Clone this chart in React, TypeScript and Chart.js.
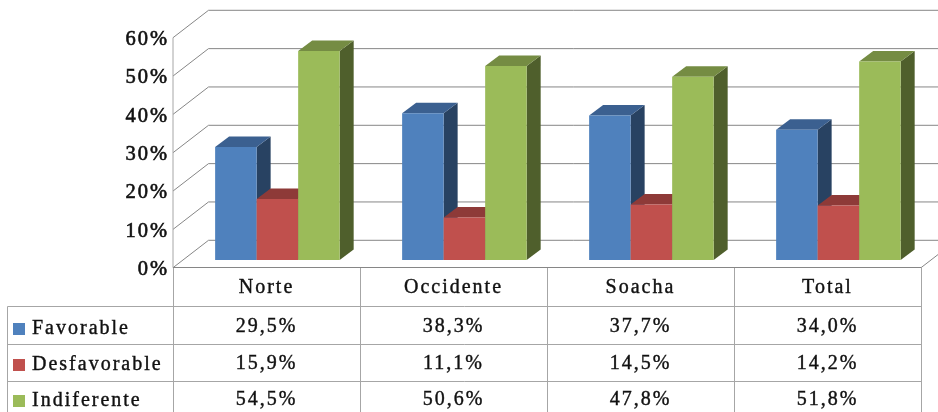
import React, { useEffect, useRef } from "react";
import { Chart, registerables } from "chart.js";

Chart.register(...registerables);

const categories = ["Norte", "Occidente", "Soacha", "Total"];
const favorable = [29.5, 38.3, 37.7, 34.0];
const desfavorable = [15.9, 11.1, 14.5, 14.2];
const indiferente = [54.5, 50.6, 47.8, 51.8];
const seriesNames = ["Favorable", "Desfavorable", "Indiferente"];
const seriesValues = [favorable, desfavorable, indiferente];
const frontColors = ["#4F81BD", "#C0504D", "#9BBB59"];
const topColors = ["#3B6090", "#8E3A38", "#758C43"];
const sideColors = ["#284262", "#7A302E", "#4F5F2C"];

const FONT = '"Liberation Serif", serif';
const SPACING = "2px";
const GRID = "#868686";
const TABLE = "#A6A6A6";
const INK = "#111111";
const BACK_DX = 35.5, BACK_DY = -27.4;
const BAR_DX = 10.9, BAR_DY = -7.7;
const SIDE_DX = 14, SIDE_DY = -10.5;
const ROW_LINES = [306.5, 344, 381];
const VALUE_Y = [327, 364, 399.5];
const NAME_Y = [328.7, 365, 401];
const LEGEND_Y = [323, 359, 395];

const scene = {
  id: "scene",
  beforeDraw(chart: any) {
    chart.ctx.letterSpacing = SPACING;
    chart.scales.y.getLabelItems().forEach((item: any) => {
      item.textOffset = 2;
    });
  },
  beforeDatasetsDraw(chart: any) {
    const { ctx, scales, chartArea } = chart;
    const y = scales.y;
    ctx.save();
    ctx.lineWidth = 1;
    ctx.strokeStyle = GRID;
    y.ticks.forEach((t: any) => {
      const py = y.getPixelForValue(t.value);
      ctx.beginPath();
      ctx.moveTo(chartArea.left, py);
      ctx.lineTo(chartArea.left + BACK_DX, py + BACK_DY);
      ctx.lineTo(chartArea.right + BACK_DX, py + BACK_DY);
      ctx.stroke();
    });
    const y0 = y.getPixelForValue(0);
    ctx.beginPath();
    ctx.moveTo(chartArea.right, y0);
    ctx.lineTo(chartArea.right + BACK_DX, y0 + BACK_DY);
    ctx.stroke();
    ctx.strokeStyle = TABLE;
    ctx.beginPath();
    ctx.moveTo(chartArea.left, y.getPixelForValue(60));
    ctx.lineTo(chartArea.left, y0);
    ctx.stroke();
    ctx.translate(BAR_DX, BAR_DY);
    categories.forEach((_, c) => {
      seriesValues.forEach((__, s) => {
        const el: any = chart.getDatasetMeta(s).data[c];
        const l = el.x - el.width / 2;
        const r = el.x + el.width / 2;
        ctx.fillStyle = sideColors[s];
        ctx.beginPath();
        ctx.moveTo(r, el.y);
        ctx.lineTo(r + SIDE_DX, el.y + SIDE_DY);
        ctx.lineTo(r + SIDE_DX, el.base + SIDE_DY);
        ctx.lineTo(r, el.base);
        ctx.closePath();
        ctx.fill();
        ctx.fillStyle = topColors[s];
        ctx.beginPath();
        ctx.moveTo(l, el.y);
        ctx.lineTo(l + SIDE_DX, el.y + SIDE_DY);
        ctx.lineTo(r + SIDE_DX, el.y + SIDE_DY);
        ctx.lineTo(r, el.y);
        ctx.closePath();
        ctx.fill();
        el.draw(ctx);
      });
    });
    ctx.restore();
    return false;
  },
  afterDraw(chart: any) {
    const { ctx, scales, chartArea, height } = chart;
    const x = scales.x;
    const y0 = scales.y.getPixelForValue(0);
    const edges = categories.map((_, i) => x.getPixelForValue(i) - (x.getPixelForValue(1) - x.getPixelForValue(0)) / 2);
    edges.push(chartArea.right);
    ctx.save();
    ctx.lineWidth = 1;
    ctx.strokeStyle = TABLE;
    edges.forEach((e: number) => {
      const px = Math.round(e) + 0.5;
      ctx.beginPath();
      ctx.moveTo(px, y0);
      ctx.lineTo(px, height);
      ctx.stroke();
    });
    ctx.beginPath();
    ctx.moveTo(7.5, ROW_LINES[0]);
    ctx.lineTo(7.5, height);
    ctx.stroke();
    ROW_LINES.forEach((ry) => {
      ctx.beginPath();
      ctx.moveTo(7.5, Math.floor(ry) + 0.5);
      ctx.lineTo(chartArea.right, Math.floor(ry) + 0.5);
      ctx.stroke();
    });
    ctx.strokeStyle = GRID;
    ctx.beginPath();
    ctx.moveTo(chartArea.left, Math.floor(y0) + 0.5);
    ctx.lineTo(chartArea.right, Math.floor(y0) + 0.5);
    ctx.stroke();

    ctx.font = `20px ${FONT}`;
    ctx.letterSpacing = SPACING;
    ctx.textBaseline = "middle";
    ctx.lineWidth = 0.4;
    ctx.strokeStyle = INK;
    const label = (text: string, px: number, py: number) => {
      ctx.fillText(text, px, py);
      ctx.strokeText(text, px, py);
    };
    seriesNames.forEach((name, s) => {
      ctx.fillStyle = frontColors[s];
      ctx.fillRect(13, LEGEND_Y[s], 12, 12);
      ctx.fillStyle = INK;
      ctx.textAlign = "left";
      label(name, 32, NAME_Y[s]);
      ctx.textAlign = "center";
      seriesValues[s].forEach((v, c) => {
        label(`${v.toFixed(1).replace(".", ",")}%`, x.getPixelForValue(c), VALUE_Y[s]);
      });
    });
    ctx.restore();
  },
};

export default function App() {
  const ref = useRef<HTMLCanvasElement>(null);
  useEffect(() => {
    const chart = new Chart(ref.current as HTMLCanvasElement, {
      type: "bar",
      data: {
        labels: categories,
        datasets: seriesNames.map((name, s) => ({
          label: name,
          data: seriesValues[s],
          backgroundColor: frontColors[s],
          barPercentage: 1,
          categoryPercentage: 0.666,
        })),
      },
      options: {
        responsive: false,
        animation: false,
        layout: { padding: { top: 37.7, right: 17, left: 0, bottom: 0 } },
        plugins: { legend: { display: false }, tooltip: { enabled: false } },
        scales: {
          x: {
            grid: { display: false },
            border: { display: false },
            ticks: { color: INK, font: { family: FONT, size: 20 }, padding: 0, maxRotation: 0, textStrokeColor: INK, textStrokeWidth: 0.4 },
            afterFit(s: any) { s.height = 412 - 267.7; },
          },
          y: {
            min: 0,
            max: 60,
            grid: { display: false },
            border: { display: false },
            ticks: { stepSize: 10, color: INK, padding: -4, font: { family: FONT, size: 20.5 }, textStrokeColor: INK, textStrokeWidth: 0.6, callback: (v: any) => `${v}%` },
            afterFit(s: any) { s.width = 173; },
          },
        },
      },
      plugins: [scene],
    });
    return () => chart.destroy();
  }, []);
  return (
    <div style={{ position: "fixed", left: 0, top: 0, width: 938, height: 412, overflow: "hidden", background: "#fff" }}>
      <canvas ref={ref} width={938} height={412} style={{ display: "block" }} />
    </div>
  );
}
